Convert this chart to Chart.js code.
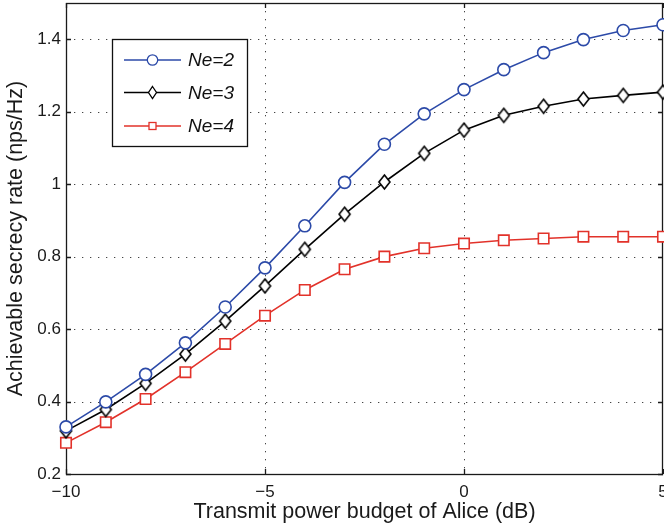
<!DOCTYPE html>
<html><head><meta charset="utf-8">
<script src="https://cdn.jsdelivr.net/npm/chart.js@4"></script>
<style>html,body{margin:0;padding:0;background:#fff;overflow:hidden}#wrap{width:664px;height:530px;position:relative;overflow:hidden}</style>
</head><body><div id="wrap"><canvas id="c" width="664" height="530"></canvas></div>
<script>
const powerBudget = [-10,-9,-8,-7,-6,-5,-4,-3,-2,-1,0,1,2,3,4,5];
const rateNe2 = [0.330,0.399,0.475,0.562,0.661,0.769,0.885,1.005,1.110,1.194,1.261,1.316,1.363,1.399,1.424,1.440];
const rateNe3 = [0.319,0.378,0.450,0.531,0.622,0.719,0.820,0.917,1.006,1.085,1.149,1.190,1.215,1.235,1.245,1.254];
const rateNe4 = [0.286,0.343,0.407,0.481,0.559,0.637,0.708,0.765,0.800,0.823,0.836,0.845,0.850,0.855,0.855,0.855];
const seriesNames = ['Ne=2','Ne=3','Ne=4'];
const xTicks = [-10,-5,0,5];
const yTicks = [0.2,0.4,0.6,0.8,1.0,1.2,1.4];

const BLUE = '#2c4aa8', BLACK = '#000000', RED = '#e2322a';
const FONT = '"Liberation Sans", Arial, sans-serif';

function diamondImg(hw, hh, lw){
  const w = Math.ceil(2*hw + 2*lw + 2), h = Math.ceil(2*hh + 2*lw + 2);
  const c = document.createElement('canvas'); c.width = w; c.height = h;
  const g = c.getContext('2d'); const cx = w/2, cy = h/2;
  g.beginPath(); g.moveTo(cx, cy-hh); g.lineTo(cx+hw, cy); g.lineTo(cx, cy+hh); g.lineTo(cx-hw, cy); g.closePath();
  g.fillStyle = '#fff'; g.fill(); g.lineWidth = lw; g.strokeStyle = BLACK; g.stroke();
  return c;
}
const diamond = diamondImg(5.5, 7, 1.6);
const diamondSmall = diamondImg(4, 6, 1.3);

const frameAndGrid = {
  id: 'frameAndGrid',
  beforeDatasetsDraw(chart){
    const {ctx, chartArea: a, scales: {x, y}} = chart;
    ctx.save();
    ctx.strokeStyle = '#444'; ctx.lineWidth = 1; ctx.setLineDash([1.3, 6.7]);
    yTicks.forEach(v => { if (v <= 0.2 || v >= 1.5) return; const py = Math.round(y.getPixelForValue(v)) + 0.5;
      ctx.beginPath(); ctx.moveTo(a.left, py); ctx.lineTo(a.right, py); ctx.stroke(); });
    xTicks.forEach(v => { if (v <= -10 || v >= 5) return; const px = Math.round(x.getPixelForValue(v)) + 0.5;
      ctx.beginPath(); ctx.moveTo(px, a.top); ctx.lineTo(px, a.bottom); ctx.stroke(); });
    ctx.setLineDash([]);
    ctx.strokeStyle = '#1a1a1a'; ctx.lineWidth = 1.3;
    ctx.strokeRect(a.left + 0.5, a.top + 0.5, a.right - a.left - 1, a.bottom - a.top);
    const tl = 5;
    ctx.beginPath();
    yTicks.forEach(v => { const py = Math.round(y.getPixelForValue(v)) + 0.5;
      ctx.moveTo(a.left, py); ctx.lineTo(a.left + tl, py); ctx.moveTo(a.right, py); ctx.lineTo(a.right - tl, py); });
    xTicks.forEach(v => { const px = Math.round(x.getPixelForValue(v)) + 0.5;
      ctx.moveTo(px, a.bottom); ctx.lineTo(px, a.bottom - tl); ctx.moveTo(px, a.top); ctx.lineTo(px, a.top + tl); });
    ctx.stroke();
    ctx.restore();
  }
};

function legendMarker(ctx, ds, x, y){
  ctx.save();
  ctx.fillStyle = '#fff'; ctx.strokeStyle = ds.borderColor; ctx.lineWidth = 1.3;
  if (ds.pointStyle === 'circle') { ctx.beginPath(); ctx.arc(x, y, 5.2, 0, Math.PI*2); ctx.fill(); ctx.stroke(); }
  else if (ds.pointStyle === 'rect') { ctx.fillRect(x-3.5, y-3.5, 7, 7); ctx.strokeRect(x-3.5, y-3.5, 7, 7); }
  else { ctx.drawImage(diamondSmall, x - diamondSmall.width/2, y - diamondSmall.height/2); }
  ctx.restore();
}

const boxLegend = {
  id: 'boxLegend',
  afterDraw(chart){
    const ctx = chart.ctx;
    const L = 112.5, T = 39.5, R = 247.5, B = 146.5;
    ctx.save();
    ctx.fillStyle = '#fff'; ctx.fillRect(L, T, R - L, B - T);
    ctx.strokeStyle = '#111'; ctx.lineWidth = 1.3; ctx.strokeRect(L, T, R - L, B - T);
    const rows = [60, 92.5, 126];
    chart.data.datasets.forEach((ds, i) => {
      const yy = rows[i];
      ctx.strokeStyle = ds.borderColor; ctx.lineWidth = 1.5;
      ctx.beginPath(); ctx.moveTo(124, yy); ctx.lineTo(181, yy); ctx.stroke();
      legendMarker(ctx, ds, 152.5, yy);
      ctx.fillStyle = '#111';
      ctx.font = 'italic 19px ' + FONT;
      ctx.textBaseline = 'middle'; ctx.textAlign = 'left';
      ctx.fillText(seriesNames[i], 188, yy + 1);
    });
    ctx.restore();
  }
};

const fmt = v => (v < 0 ? '\u2212' + Math.abs(v) : String(v));

new Chart(document.getElementById('c'), {
  type: 'line',
  data: {
    labels: powerBudget,
    datasets: [
      { label: seriesNames[0], data: rateNe2, borderColor: BLUE, pointBackgroundColor: '#fff', pointBorderColor: BLUE, pointStyle: 'circle', pointRadius: 6, pointBorderWidth: 1.6, borderWidth: 1.6, tension: 0 },
      { label: seriesNames[1], data: rateNe3, borderColor: BLACK, pointBackgroundColor: '#fff', pointBorderColor: BLACK, pointStyle: diamond, pointRadius: 7, pointBorderWidth: 1.6, borderWidth: 1.6, tension: 0 },
      { label: seriesNames[2], data: rateNe4, borderColor: RED, pointBackgroundColor: '#fff', pointBorderColor: RED, pointStyle: 'rect', pointRadius: 7.4, pointBorderWidth: 1.6, borderWidth: 1.6, tension: 0 }
    ].map(d => Object.assign(d, { clip: false }))
  },
  options: {
    responsive: false, animation: false,
    layout: { autoPadding: false, padding: { top: 3, right: 1, bottom: 0, left: 0 } },
    plugins: { legend: { display: false }, tooltip: { enabled: false } },
    scales: {
      x: {
        type: 'linear', min: -10, max: 5,
        grid: { display: false, drawTicks: false }, border: { display: false },
        afterBuildTicks: s => { s.ticks = xTicks.map(v => ({ value: v })); },
        afterFit: s => { s.height = 56; s.paddingLeft = 0; s.paddingRight = 0; },
        ticks: { color: '#1a1a1a', padding: 8, maxRotation: 0, autoSkip: false, font: { family: FONT, size: 17 }, callback: v => fmt(v) },
        title: { display: true, text: 'Transmit power budget of Alice (dB)', color: '#1a1a1a', padding: { top: 0, bottom: 5 }, font: { family: FONT, size: 21.5 } }
      },
      y: {
        type: 'linear', min: 0.2, max: 1.5,
        grid: { display: false, drawTicks: false }, border: { display: false },
        afterBuildTicks: s => { s.ticks = yTicks.map(v => ({ value: v })); },
        afterFit: s => { s.width = 66; s.paddingTop = 0; s.paddingBottom = 0; },
        ticks: { color: '#1a1a1a', padding: 5, autoSkip: false, font: { family: FONT, size: 17 }, callback: v => String(Math.round(v * 10) / 10) },
        title: { display: true, text: 'Achievable secrecy rate (nps/Hz)', color: '#1a1a1a', padding: { top: 3, bottom: 0 }, font: { family: FONT, size: 21.5 } }
      }
    }
  },
  plugins: [frameAndGrid, boxLegend]
});
</script></body></html>
